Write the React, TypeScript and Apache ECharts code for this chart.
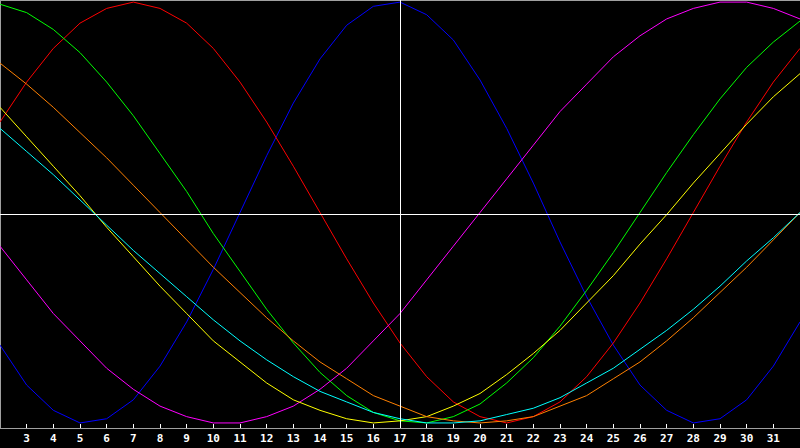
import React, { useEffect, useRef } from 'react';
import * as echarts from 'echarts';

// day of month shown on the x axis
const days = [2, 3, 4, 5, 6, 7, 8, 9, 10, 11, 12, 13, 14, 15, 16, 17, 18, 19, 20, 21, 22, 23, 24, 25, 26, 27, 28, 29, 30, 31, 32];

// cycle levels, -100 .. 100
const physical = [-63, -82, -94, -100, -98, -89, -73, -52, -27, 0, 27, 52, 73, 89, 98, 100, 94, 82, 63, 40, 14, -14, -40, -63, -82, -94, -100, -98, -89, -73, -52];
const emotional = [43, 62, 78, 90, 97, 100, 97, 90, 78, 62, 43, 22, 0, -22, -43, -62, -78, -90, -97, -100, -97, -90, -78, -62, -43, -22, 0, 22, 43, 62, 78];
const intellectual = [99, 95, 87, 76, 62, 46, 28, 10, -10, -28, -46, -62, -76, -87, -95, -99, -100, -97, -91, -81, -69, -54, -37, -19, 0, 19, 37, 54, 69, 81, 91];
const intuitive = [-16, -32, -48, -61, -74, -84, -92, -97, -100, -100, -97, -92, -84, -74, -61, -48, -32, -16, 0, 16, 32, 48, 61, 74, 84, 92, 97, 100, 100, 97, 92];
const aesthetic = [50, 36, 22, 8, -7, -21, -35, -48, -61, -71, -81, -89, -94, -98, -100, -99, -97, -92, -86, -77, -67, -56, -43, -30, -15, -1, 14, 28, 42, 55, 66];
const awareness = [71, 61, 50, 38, 26, 13, 0, -13, -26, -38, -50, -61, -71, -79, -87, -92, -97, -99, -100, -99, -97, -92, -87, -79, -71, -61, -50, -38, -26, -13, 0];
const spiritual = [40, 29, 18, 6, -6, -18, -29, -40, -51, -61, -70, -78, -85, -90, -95, -98, -100, -100, -99, -96, -93, -88, -81, -74, -65, -56, -46, -35, -23, -12, 0];

// crosshair position
const cursorDay = 17;
const cursorLevel = -0.7;

export default function App() {
  const chartRef = useRef<HTMLDivElement>(null);

  useEffect(() => {
    if (!chartRef.current) return;

    const chart = echarts.init(chartRef.current, null, { renderer: 'svg' });

    const makeSeries = (name: string, values: number[], color: string) => ({
      name,
      type: 'line',
      data: values.map((v, i) => [days[i], v]),
      symbol: 'none',
      silent: true,
      lineStyle: { color, width: 1 },
      itemStyle: { color }
    });

    const cyan: any = makeSeries('Spiritual', spiritual, '#00ffff');
    cyan.markLine = {
      silent: true,
      symbol: ['none', 'none'],
      label: { show: false },
      lineStyle: { color: '#ffffff', width: 1, type: 'solid' },
      data: [{ xAxis: cursorDay }, { yAxis: cursorLevel }]
    };

    const option = {
      animation: false,
      backgroundColor: '#000000',
      grid: { left: 0, right: 0, top: 0, bottom: 20 },
      xAxis: [
        {
          type: 'value',
          min: 2,
          max: 32,
          interval: 1,
          axisLine: { show: true, onZero: false, lineStyle: { color: '#a0a0a0', width: 1 } },
          axisTick: { show: true, inside: true, length: 4, lineStyle: { color: '#ffffff' } },
          axisLabel: {
            color: '#ffffff',
            fontFamily: 'DejaVu Sans Mono',
            fontWeight: 'bold',
            fontSize: 11,
            margin: 5,
            showMinLabel: false,
            showMaxLabel: false
          },
          splitLine: { show: false }
        },
        {
          type: 'value',
          position: 'top',
          min: 2,
          max: 32,
          axisLine: { show: true, onZero: false, lineStyle: { color: '#a0a0a0', width: 1 } },
          axisTick: { show: false },
          axisLabel: { show: false },
          splitLine: { show: false }
        }
      ],
      yAxis: {
        type: 'value',
        min: -102.4,
        max: 101,
        axisLine: { show: true, onZero: false, lineStyle: { color: '#a0a0a0', width: 1 } },
        axisTick: { show: false },
        axisLabel: { show: false },
        splitLine: { show: false }
      },
      series: [
        makeSeries('Physical', physical, '#0000ff'),
        makeSeries('Emotional', emotional, '#ff0000'),
        makeSeries('Intellectual', intellectual, '#00ff00'),
        makeSeries('Intuitive', intuitive, '#ff00ff'),
        makeSeries('Aesthetic', aesthetic, '#ffff00'),
        makeSeries('Awareness', awareness, '#ff8000'),
        cyan
      ]
    };

    chart.setOption(option);

    return () => {
      chart.dispose();
    };
  }, []);

  return (
    <div
      ref={chartRef}
      style={{
        position: 'fixed',
        left: 0,
        top: 0,
        width: '800px',
        height: '448px',
        background: '#000'
      }}
    />
  );
}
